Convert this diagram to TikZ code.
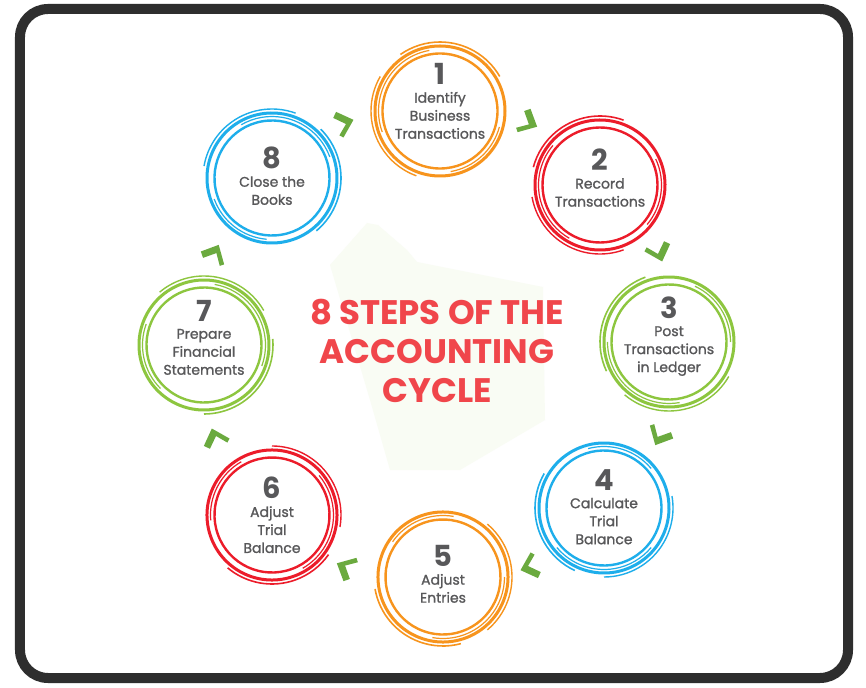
\documentclass[tikz,border=0pt]{standalone}
\usepackage{fontspec}
\setmainfont{Poppins}
\newfontfamily\labfont{Poppins}[FakeBold=1.3]
\usetikzlibrary{calc}
\definecolor{corange}{HTML}{F7941D}
\definecolor{cred}{HTML}{EC1C2A}
\definecolor{cgreen}{HTML}{8DC63F}
\definecolor{cblue}{HTML}{1EAEEB}
\definecolor{chev}{HTML}{6BAA3F}
\definecolor{txtgray}{HTML}{58585A}
\definecolor{titlered}{HTML}{F0464B}
\definecolor{framec}{HTML}{2E2E2E}
\definecolor{faint}{HTML}{F9FCF4}
\tikzset{
  stepcircle/.style={circle, minimum size=130pt, inner sep=0pt},
  numtext/.style={font=\fontsize{29}{29}\selectfont\bfseries, text=txtgray, inner sep=0pt},
  labtext/.style={font=\labfont\fontsize{14}{18}\selectfont, text=txtgray, align=center, inner sep=0pt},
  titletext/.style={font=\fontsize{34}{39}\selectfont\bfseries, text=titlered, align=center},
  chevshape/.style={fill=chev}
}
\begin{document}
\begin{tikzpicture}[x=1pt,y=1pt]
\useasboundingbox (-437,-342) rectangle (429,345);
\fill[white] (-437,-342) rectangle (429,345);
% faint background shape
\fill[faint] (-70,122) -- (-59,120) -- (-30,95) -- (-20,83) -- (106,58) -- (108,-75) -- (23,-125) -- (-47,-125) -- (-67,-55) -- (-107,80) -- cycle;
% frame
\draw[framec, line width=10pt, rounded corners=28pt] (-417,-333) rectangle (411,336);
% circles
\foreach \i/\px/\py/\col/\rot/\dy/\lab in {
  1/3/234/corange/0/37/{Identify\\Business\\Transactions},
  2/163/160/cred/40/25/{Record\\Transactions},
  3/232/3/cgreen/80/34/{Post\\Transactions\\in Ledger},
  4/167/-163/cblue/120/28/{Calculate\\Trial\\Balance},
  5/6/-232/corange/160/21/{Adjust\\Entries},
  6/-165/-170/cred/200/27/{Adjust\\Trial\\Balance},
  7/-233/0/cgreen/240/34/{Prepare\\Financial\\Statements},
  8/-165/167/cblue/280/20/{Close the\\Books}} {
  \node[stepcircle] (c\i) at (\px,\py) {};
  \begin{scope}[shift={(c\i.center)}, rotate=\rot]
    \draw[\col, line width=3pt] (0,0) circle[radius=65];
    \draw[\col, line width=2.4pt] (0,0) circle[radius=57.5];
    \draw[\col, line width=1.6pt] (30:69) arc[start angle=30, end angle=125, radius=69];
    \draw[\col, line width=1.4pt] (150:69) arc[start angle=150, end angle=250, radius=69];
    \draw[\col, line width=1.2pt] (100:61.5) arc[start angle=100, end angle=200, radius=61.5];
    \draw[\col, line width=1.2pt] (280:61.5) arc[start angle=280, end angle=345, radius=61.5];
  \end{scope}
  \node[numtext] (n\i) at ($(c\i.center)+(0,\dy)$) {\i};
  \node[labtext, anchor=north] (l\i) at ($(n\i.south)+(0,-7)$) {\lab};
}
% chevrons between circles
\foreach \j in {1,...,8} {
  \coordinate (a\j) at ({67.5-45*(\j-1)}:239);
  \fill[chevshape, shift={(a\j)}, rotate={67.5-45*(\j-1)-90}]
    (9,1) -- (-4,15) -- (-9,10.5) -- (0.5,0) -- (-10,-8) -- (-7,-11.5) -- cycle;
}
% title
\node[titletext] (title) at (0,-6) {8 STEPS OF THE\\ACCOUNTING\\CYCLE};
\end{tikzpicture}
\end{document}
